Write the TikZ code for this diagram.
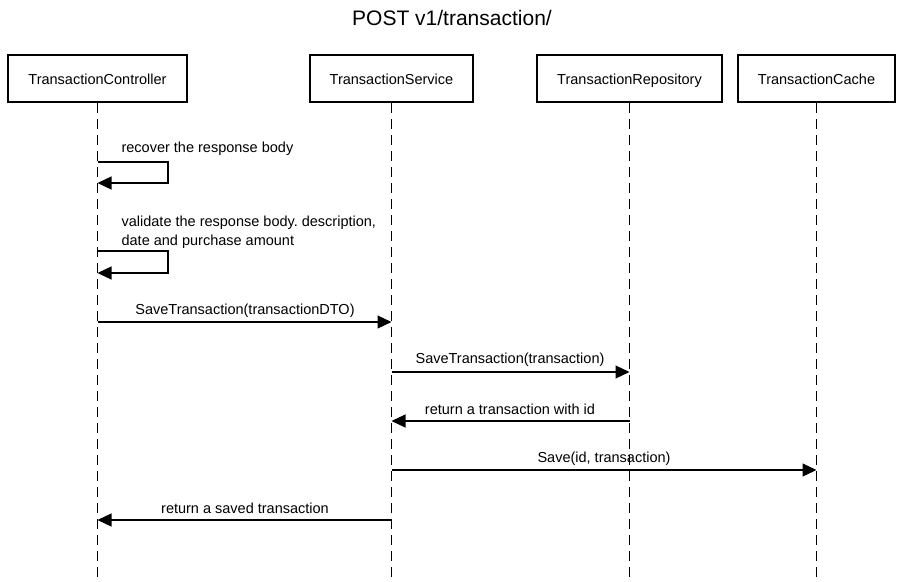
\documentclass[tikz,border=0pt]{standalone}
\usepackage{fontspec}
\setmainfont{Liberation Sans}
\usetikzlibrary{arrows.meta}
\frenchspacing

\tikzset{every picture/.style={line width=1.2pt}}
\tikzset{
  lifebox/.style={draw, line width=2.5pt, minimum height=47pt, inner sep=0pt, text height=12pt, text depth=0pt, font=\fontsize{14.5}{17}\selectfont},
  lifeline/.style={dashed, dash pattern=on 10pt off 6pt},
  msg/.style={-{Triangle[length=14pt,width=13pt]}},
  msglabel/.style={font=\fontsize{14.5}{19}\selectfont, inner sep=0pt}
}

\begin{document}
\begin{tikzpicture}[x=1pt,y=1pt,yscale=-1,xscale=1]
%uncomment if require:
\useasboundingbox (0,0) rectangle (904,581);
%set diagram left start at 0, and has height of 581

% Text Node
\node[font=\fontsize{21}{25}\selectfont] (title) at (452,18) {POST v1/transaction/};

%Shape: Rectangle
\node[lifebox, minimum width=179pt] (ctrl) at (97.5,78.5) {TransactionController};
%Shape: Rectangle
\node[lifebox, minimum width=163pt] (svc) at (391.5,78.5) {TransactionService};
%Shape: Rectangle
\node[lifebox, minimum width=185pt] (repo) at (629.5,78.5) {TransactionRepository};
%Shape: Rectangle
\node[lifebox, minimum width=157pt] (cache) at (816.5,78.5) {TransactionCache};

% lifelines
\coordinate (ctrlend) at (ctrl.south |- 0,581);
\coordinate (svcend) at (svc.south |- 0,581);
\coordinate (repoend) at (repo.south |- 0,581);
\coordinate (cacheend) at (cache.south |- 0,581);
\foreach \p in {ctrl,svc,repo,cache}
  \draw[lifeline] (\p.south) -- (\p end);

%Shape: self message
\coordinate (s1a) at (ctrl.south |- 0,162);
\coordinate (s1b) at (168,183);
\coordinate (s1c) at (ctrl.south |- 0,183);
\draw[msg] (s1a) -| (s1b) -- (s1c);
% Text Node
\node[msglabel, anchor=west] (l1) at (121,149) {recover the response body};

%Shape: self message
\coordinate (s2a) at (ctrl.south |- 0,251);
\coordinate (s2b) at (168,273);
\coordinate (s2c) at (ctrl.south |- 0,273);
\draw[msg] (s2a) -| (s2b) -- (s2c);
% Text Node
\node[msglabel, anchor=west, align=left] (l2) at (121,232.5) {validate the response body. description,\\date and purchase amount};

%Shape: message
\coordinate (m1a) at (ctrl.south |- 0,322);
\coordinate (m1b) at (svc.south |- 0,322);
\draw[msg] (m1a) -- (m1b);
% Text Node
\node[msglabel] (l3) at (245,311) {SaveTransaction(transactionDTO)};

%Shape: message
\coordinate (m2a) at (svc.south |- 0,372);
\coordinate (m2b) at (repo.south |- 0,372);
\draw[msg] (m2a) -- (m2b);
% Text Node
\node[msglabel] (l4) at (510,360) {SaveTransaction(transaction)};

%Shape: message
\coordinate (m3a) at (repo.south |- 0,421);
\coordinate (m3b) at (svc.south |- 0,421);
\draw[msg] (m3a) -- (m3b);
% Text Node
\node[msglabel] (l5) at (510,409) {return a transaction with id};

%Shape: message
\coordinate (m4a) at (svc.south |- 0,470);
\coordinate (m4b) at (cache.south |- 0,470);
\draw[msg] (m4a) -- (m4b);
% Text Node
\node[msglabel] (l6) at (604,459) {Save(id, transaction)};

%Shape: message
\coordinate (m5a) at (svc.south |- 0,520);
\coordinate (m5b) at (ctrl.south |- 0,520);
\draw[msg] (m5a) -- (m5b);
% Text Node
\node[msglabel] (l7) at (245,508) {return a saved transaction};

\end{tikzpicture}
\end{document}
